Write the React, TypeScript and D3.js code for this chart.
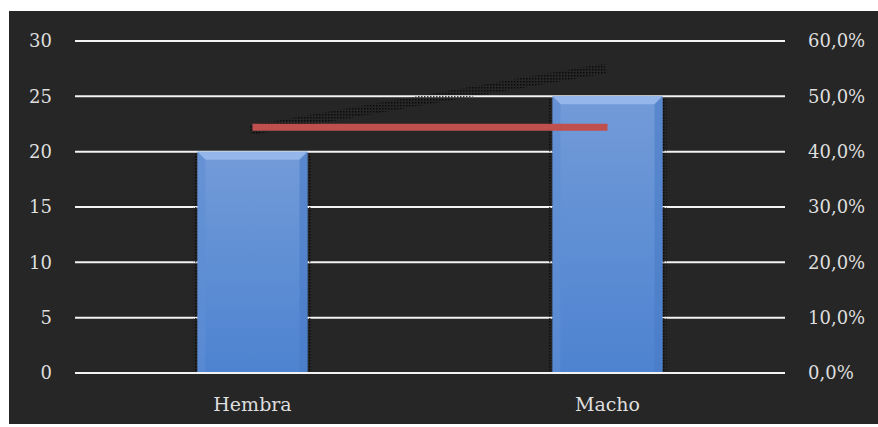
import React from "react";
import * as d3 from "d3";

const categories = ["Hembra", "Macho"];
const counts = [20, 25];
const percentLine = [44.4, 44.4];
const percentShadow = [44.4, 55.6];
const leftTicks = [0, 5, 10, 15, 20, 25, 30];
const rightTicks = [0, 10, 20, 30, 40, 50, 60];

const W = 878;
const H = 427;
const plot = { left: 75, right: 785, top: 41, bottom: 373 };
const font = "'DejaVu Serif', serif";
const textColor = "#dedede";

export default function App() {
  const x = d3
    .scaleBand<string>()
    .domain(categories)
    .range([plot.left, plot.right])
    .paddingInner(0.69)
    .paddingOuter(0.345);
  const yL = d3.scaleLinear().domain([0, 30]).range([plot.bottom, plot.top]);
  const yR = d3.scaleLinear().domain([0, 60]).range([plot.bottom, plot.top]);
  const cx = (c: string) => (x(c) ?? 0) + x.bandwidth() / 2;

  const line = d3
    .line<number>()
    .x((_, i) => cx(categories[i]))
    .y((d) => yR(d));

  const bw = x.bandwidth();
  const bev = 8;

  return (
    <svg
      width={W}
      height={H}
      style={{ position: "absolute", left: 0, top: 0 }}
    >
      <defs>
        <pattern id="stipple" width="3" height="3" patternUnits="userSpaceOnUse">
          <rect x="0" y="0" width="1.5" height="1.5" fill="#000" />
        </pattern>
        <linearGradient id="barFill" x1="0" y1="0" x2="0" y2="1">
          <stop offset="0" stopColor="#739bd8" />
          <stop offset="1" stopColor="#4d83d0" />
        </linearGradient>
      </defs>
      <rect x={0} y={0} width={W} height={H} fill="#ffffff" />
      <rect x={9} y={11} width={W - 9} height={413} fill="#262626" />

      {/* horizontal gridlines */}
      {leftTicks.map((t) => (
        <line
          key={t}
          x1={plot.left}
          x2={plot.right}
          y1={yL(t)}
          y2={yL(t)}
          stroke="#f2f2f2"
          strokeWidth={2}
        />
      ))}

      {/* bars */}
      {categories.map((c, i) => {
        const bx = x(c) ?? 0;
        const by = yL(counts[i]);
        const bh = yL(0) - by - 1;
        return (
          <g key={c}>
            <rect
              x={bx - 4}
              y={by + 2}
              width={bw + 8}
              height={bh - 2}
              fill="url(#stipple)"
              opacity={0.7}
            />
            <rect x={bx} y={by} width={bw} height={bh} fill="url(#barFill)" />
            <polygon
              points={`${bx},${by} ${bx + bw},${by} ${bx + bw - bev},${by + bev} ${bx + bev},${by + bev}`}
              fill="#94b6ea"
            />
            <polygon
              points={`${bx},${by} ${bx + bev},${by + bev} ${bx + bev},${by + bh} ${bx},${by + bh}`}
              fill="#5f8dd3"
              opacity={0.6}
            />
            <polygon
              points={`${bx + bw},${by} ${bx + bw - bev},${by + bev} ${bx + bw - bev},${by + bh} ${bx + bw},${by + bh}`}
              fill="#4a7cc6"
              opacity={0.6}
            />
          </g>
        );
      })}

      {/* percentage line with its shadow */}
      <path
        d={line(percentShadow) ?? ""}
        transform="translate(-2,3)"
        fill="none"
        stroke="url(#stipple)"
        strokeWidth={10}
        opacity={0.75}
      />
      <path
        d={line(percentLine) ?? ""}
        fill="none"
        stroke="#c0504d"
        strokeWidth={7}
      />

      {/* left axis labels */}
      {leftTicks.map((t) => (
        <text
          key={t}
          x={52}
          y={yL(t)}
          dy="0.35em"
          textAnchor="end"
          fill={textColor}
          fontFamily={font}
          fontSize={18}
        >
          {t}
        </text>
      ))}

      {/* right axis labels */}
      {rightTicks.map((t) => (
        <text
          key={t}
          x={808}
          y={yR(t)}
          dy="0.35em"
          textAnchor="start"
          fill={textColor}
          fontFamily={font}
          fontSize={18}
        >
          {t.toFixed(1).replace(".", ",") + "%"}
        </text>
      ))}

      {/* category labels */}
      {categories.map((c) => (
        <text
          key={c}
          x={cx(c)}
          y={411}
          textAnchor="middle"
          fill={textColor}
          fontFamily={font}
          fontSize={19}
        >
          {c}
        </text>
      ))}
    </svg>
  );
}
